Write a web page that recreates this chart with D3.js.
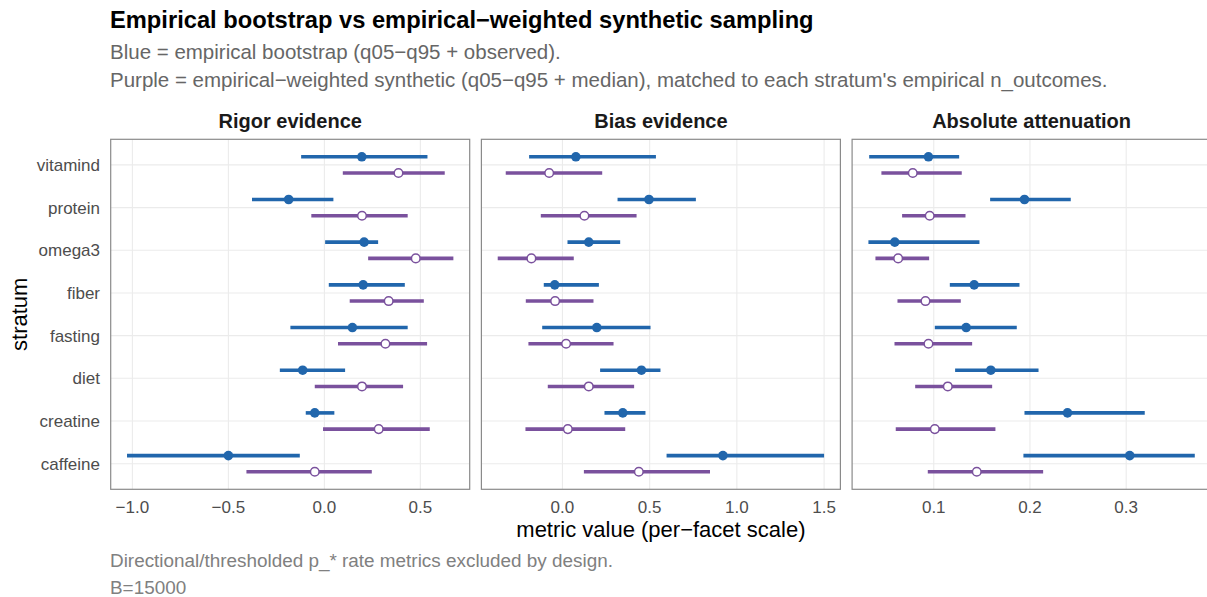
<!DOCTYPE html>
<html>
<head>
<meta charset="utf-8">
<script src="https://cdn.jsdelivr.net/npm/d3@7/dist/d3.min.js"></script>
<style>
  html, body { margin: 0; padding: 0; background: #ffffff; }
  svg text { font-family: "Liberation Sans", Arial, Helvetica, sans-serif; }
</style>
</head>
<body>
<svg id="chart" width="1207" height="597"></svg>
<script>
// Strata, top to bottom
const strata = ["vitamind", "protein", "omega3", "fiber", "fasting", "diet", "creatine", "caffeine"];

// Facets
const facets = ["Rigor evidence", "Bias evidence", "Absolute attenuation"];
const facetTicks = [
  [-1.0, -0.5, 0.0, 0.5],
  [0.0, 0.5, 1.0, 1.5],
  [0.1, 0.2, 0.3]
];
const facetTickLabels = [
  ["\u22121.0", "\u22120.5", "0.0", "0.5"],
  ["0.0", "0.5", "1.0", "1.5"],
  ["0.1", "0.2", "0.3"]
];

// Empirical bootstrap: q05, observed, q95 (per stratum, order as strata)
const bootRigorLo  = [-0.121, -0.377, 0.004, 0.023, -0.177, -0.232, -0.097, -1.028];
const bootRigorObs = [ 0.195, -0.186, 0.207, 0.202,  0.146, -0.113, -0.050, -0.500];
const bootRigorHi  = [ 0.537,  0.047, 0.280, 0.419,  0.434,  0.108,  0.052, -0.128];

const bootBiasLo  = [-0.191, 0.316, 0.029, -0.107, -0.116, 0.216, 0.241, 0.597];
const bootBiasObs = [ 0.077, 0.496, 0.151, -0.044,  0.197, 0.453, 0.346, 0.920];
const bootBiasHi  = [ 0.536, 0.765, 0.331,  0.209,  0.505, 0.562, 0.476, 1.500];

const bootAttLo  = [0.0329, 0.1586, 0.0321, 0.1167, 0.1011, 0.1222, 0.1943, 0.1932];
const bootAttObs = [0.0945, 0.1943, 0.0595, 0.1420, 0.1337, 0.1593, 0.2390, 0.3037];
const bootAttHi  = [0.1264, 0.2424, 0.1475, 0.1891, 0.1863, 0.2089, 0.3193, 0.3713];

// Empirical-weighted synthetic: q05, median, q95
const synRigorLo  = [0.096, -0.068, 0.228, 0.132, 0.071, -0.050, -0.007, -0.406];
const synRigorMed = [0.386,  0.196, 0.476, 0.335, 0.318,  0.196,  0.283, -0.050];
const synRigorHi  = [0.627,  0.434, 0.672, 0.518, 0.535,  0.410,  0.549,  0.247];

const synBiasLo  = [-0.325, -0.124, -0.371, -0.210, -0.195, -0.084, -0.212, 0.123];
const synBiasMed = [-0.076,  0.126, -0.178, -0.042,  0.021,  0.151,  0.031, 0.438];
const synBiasHi  = [ 0.228,  0.425,  0.065,  0.178,  0.293,  0.411,  0.360, 0.846];

const synAttLo  = [0.0456, 0.0671, 0.0394, 0.0623, 0.0592, 0.0807, 0.0605, 0.0938];
const synAttMed = [0.0782, 0.0958, 0.0630, 0.0914, 0.0945, 0.1146, 0.1011, 0.1447];
const synAttHi  = [0.1291, 0.1330, 0.0952, 0.1281, 0.1399, 0.1607, 0.1641, 0.2137];

const bootSeries = [
  [bootRigorLo, bootRigorObs, bootRigorHi],
  [bootBiasLo, bootBiasObs, bootBiasHi],
  [bootAttLo, bootAttObs, bootAttHi]
];
const synSeries = [
  [synRigorLo, synRigorMed, synRigorHi],
  [synBiasLo, synBiasMed, synBiasHi],
  [synAttLo, synAttMed, synAttHi]
];

const BLUE = "#2166ac";
const PURPLE = "#7a519d";

const svg = d3.select("#chart");

// Layout
const panelLeft = 110.7, panelWidth = 359, panelGap = 11.7;
const panelTop = 139.3, panelHeight = 350;

// Discrete y: one band per stratum, 0.6 units padding at both ends
const yIdx = d3.scaleLinear()
  .domain([-0.6, strata.length - 1 + 0.6])
  .range([panelTop, panelTop + panelHeight]);
const dodge = 0.19;

// Title block
svg.append("text").attr("x", 110).attr("y", 28)
  .attr("font-size", 23.7).attr("font-weight", "bold").attr("fill", "#000")
  .text("Empirical bootstrap vs empirical\u2212weighted synthetic sampling");
svg.append("text").attr("x", 110).attr("y", 59)
  .attr("font-size", 20.5).attr("fill", "#666666")
  .text("Blue = empirical bootstrap (q05\u2212q95 + observed).");
svg.append("text").attr("x", 110).attr("y", 87)
  .attr("font-size", 20.5).attr("fill", "#666666")
  .text("Purple = empirical\u2212weighted synthetic (q05\u2212q95 + median), matched to each stratum's empirical n_outcomes.");

// Y axis labels (left of first panel)
svg.append("g").selectAll("text").data(strata).join("text")
  .attr("x", 100).attr("y", (d, i) => yIdx(i) + 6)
  .attr("text-anchor", "end").attr("font-size", 17).attr("fill", "#4d4d4d")
  .text(d => d);

svg.append("text")
  .attr("transform", `translate(27,${panelTop + panelHeight / 2}) rotate(-90)`)
  .attr("text-anchor", "middle").attr("font-size", 22).attr("fill", "#000")
  .text("stratum");

facets.forEach((name, f) => {
  const x0 = panelLeft + f * (panelWidth + panelGap);
  const [bLo, bMid, bHi] = bootSeries[f];
  const [sLo, sMid, sHi] = synSeries[f];
  const all = [].concat(bLo, bHi, sLo, sHi, bMid, sMid);
  const ext = d3.extent(all);
  const pad = (ext[1] - ext[0]) * 0.05;
  const x = d3.scaleLinear().domain([ext[0] - pad, ext[1] + pad]).range([x0, x0 + panelWidth]);

  const g = svg.append("g");

  // grid
  g.selectAll("line.vg").data(facetTicks[f]).join("line")
    .attr("x1", d => x(d)).attr("x2", d => x(d))
    .attr("y1", panelTop).attr("y2", panelTop + panelHeight)
    .attr("stroke", "#ebebeb").attr("stroke-width", 1.1);
  g.selectAll("line.hg").data(strata).join("line")
    .attr("x1", x0).attr("x2", x0 + panelWidth)
    .attr("y1", (d, i) => yIdx(i)).attr("y2", (d, i) => yIdx(i))
    .attr("stroke", "#ebebeb").attr("stroke-width", 1.1);

  // bootstrap intervals and observed values
  g.selectAll("line.b").data(strata).join("line")
    .attr("x1", (d, i) => x(bLo[i])).attr("x2", (d, i) => x(bHi[i]))
    .attr("y1", (d, i) => yIdx(i - dodge)).attr("y2", (d, i) => yIdx(i - dodge))
    .attr("stroke", BLUE).attr("stroke-width", 3.6);
  g.selectAll("circle.b").data(strata).join("circle")
    .attr("cx", (d, i) => x(bMid[i])).attr("cy", (d, i) => yIdx(i - dodge))
    .attr("r", 4.8).attr("fill", BLUE);

  // synthetic intervals and medians
  g.selectAll("line.s").data(strata).join("line")
    .attr("x1", (d, i) => x(sLo[i])).attr("x2", (d, i) => x(sHi[i]))
    .attr("y1", (d, i) => yIdx(i + dodge)).attr("y2", (d, i) => yIdx(i + dodge))
    .attr("stroke", PURPLE).attr("stroke-width", 3.6);
  g.selectAll("circle.s").data(strata).join("circle")
    .attr("cx", (d, i) => x(sMid[i])).attr("cy", (d, i) => yIdx(i + dodge))
    .attr("r", 4.3).attr("fill", "#ffffff").attr("stroke", PURPLE).attr("stroke-width", 1.5);

  // panel border
  g.append("rect").attr("x", x0).attr("y", panelTop)
    .attr("width", panelWidth).attr("height", panelHeight)
    .attr("fill", "none").attr("stroke", "#8a8a8a").attr("stroke-width", 1.2);

  // x tick labels
  g.selectAll("text.t").data(facetTicks[f]).join("text")
    .attr("x", d => x(d)).attr("y", 513)
    .attr("text-anchor", "middle").attr("font-size", 17).attr("fill", "#4d4d4d")
    .text((d, i) => facetTickLabels[f][i]);

  // strip title
  g.append("text").attr("x", x0 + panelWidth / 2).attr("y", 128)
    .attr("text-anchor", "middle").attr("font-size", 20).attr("font-weight", "bold").attr("fill", "#1a1a1a")
    .text(name);
});

// x axis title, centred on the panel area
svg.append("text")
  .attr("x", (panelLeft + panelLeft + 3 * panelWidth + 2 * panelGap) / 2).attr("y", 537)
  .attr("text-anchor", "middle").attr("font-size", 22).attr("fill", "#000")
  .text("metric value (per\u2212facet scale)");

// caption
svg.append("text").attr("x", 110).attr("y", 567)
  .attr("font-size", 18.9).attr("fill", "#808080")
  .text("Directional/thresholded p_* rate metrics excluded by design.");
svg.append("text").attr("x", 110).attr("y", 594)
  .attr("font-size", 18.9).attr("fill", "#808080")
  .text("B=15000");
</script>
</body>
</html>
